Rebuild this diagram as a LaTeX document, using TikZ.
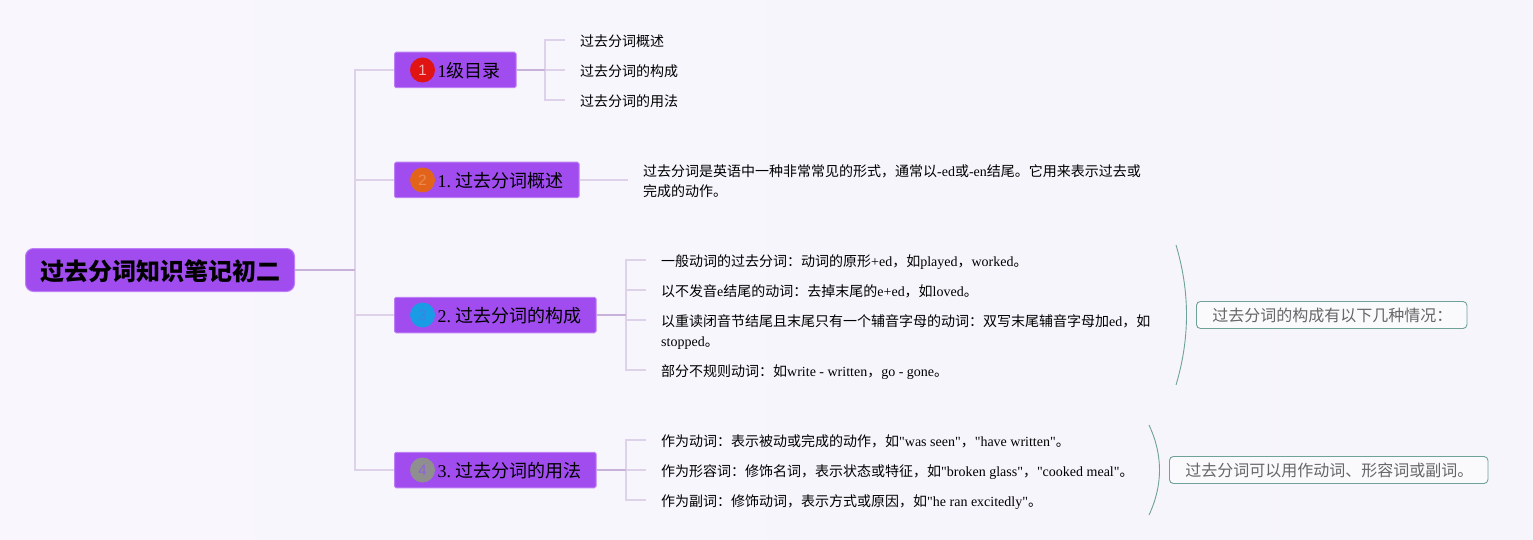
\documentclass[tikz,border=0pt]{standalone}
\usepackage{fontspec}
\setmainfont{Liberation Serif}
\newfontfamily\cjk{Noto Sans CJK SC}
\newfontfamily\plainserif{Liberation Serif}
\newfontfamily\badgefont{Liberation Sans}
\newcommand{\zh}[1]{{\cjk #1}}
\newcommand{\qm}{{\plainserif"}}
\definecolor{bgL}{HTML}{F9F6FE}
\definecolor{bgR}{HTML}{F6F5FB}
\definecolor{nodeFill}{HTML}{A14CEF}
\definecolor{nodeEdge}{HTML}{BC7FF5}
\definecolor{dark}{HTML}{C9B2D9}
\definecolor{soft}{HTML}{DDD2EA}
\definecolor{teal}{HTML}{6FA298}
\definecolor{calloutFill}{HTML}{FAFAFD}
\definecolor{badgeA}{HTML}{E11414}
\definecolor{badgeAt}{HTML}{F8B0B0}
\definecolor{badgeB}{HTML}{E2641A}
\definecolor{badgeBt}{HTML}{EC8A50}
\definecolor{badgeC}{HTML}{1A9BE5}
\definecolor{badgeCt}{HTML}{3C84E2}
\definecolor{badgeD}{HTML}{8F8F8F}
\definecolor{badgeDt}{HTML}{9060E0}
\tikzset{
  x=1pt,y=-1pt,
  rootbox/.style={draw=nodeEdge,line width=1pt,fill=nodeFill,rounded corners=8pt,minimum width=269pt,minimum height=43pt,inner sep=0pt,text height=21.2pt,text depth=0pt,font=\fontsize{24}{28}\selectfont\bfseries,text=black},
  branchbox/.style={draw=nodeEdge,line width=1pt,fill=nodeFill,rounded corners=1.5pt,minimum height=35.5pt,inner xsep=0pt,inner ysep=0pt,align=left,anchor=west,text height=15.6pt,text depth=0pt,font=\fontsize{18}{22}\selectfont,text=black},
  badge/.style={circle,minimum size=25pt,inner sep=0pt,font=\fontsize{15}{15}\selectfont\badgefont},
  leaf/.style={anchor=west,inner sep=0pt,inner xsep=15pt,align=left,text height=10.6pt,text depth=0pt,font=\fontsize{14}{20}\selectfont,text=black},
  trunkline/.style={draw=soft,line width=1.6pt},
  stemline/.style={draw=dark,line width=1.6pt},
  bracket/.style={draw=teal,line width=.9pt},
  callout/.style={draw=teal,line width=.9pt,fill=calloutFill,rounded corners=4pt,minimum height=27pt,inner sep=0pt,anchor=west,align=left,text=black!60,font=\fontsize{16}{20}\selectfont},
}
\begin{document}
\begin{tikzpicture}
\useasboundingbox (0,0) rectangle (1533,540);
\shade[left color=bgL,right color=bgR] (0,0) rectangle (1533,540);

\coordinate (trunk) at (355,270);
\node[rootbox] (root) at (160,270) {\zh{过去分词知识笔记初二}};

\node[branchbox,text width=121.5pt] (b1) at (394,70) {\hspace*{43pt}1\zh{级目录}};
\node[branchbox,text width=184.5pt] (b2) at (394,180) {\hspace*{43pt}1.\kern4.5pt\zh{过去分词概述}};
\node[branchbox,text width=201.5pt] (b3) at (394,315) {\hspace*{43pt}2.\kern4.5pt\zh{过去分词的构成}};
\node[branchbox,text width=201.5pt] (b4) at (394,470) {\hspace*{43pt}3.\kern4.5pt\zh{过去分词的用法}};

\node[badge,fill=badgeA,text=badgeAt] (i1) at (422.5,70) {1};
\node[badge,fill=badgeB,text=badgeBt] (i2) at (422.5,180) {2};
\node[badge,fill=badgeC,text=badgeCt] (i3) at (422.5,315) {3};
\node[badge,fill=badgeD,text=badgeDt] (i4) at (422.5,470) {4};

\node[leaf] (c11) at (565,41) {\zh{过去分词概述}};
\node[leaf] (c12) at (565,71) {\zh{过去分词的构成}};
\node[leaf] (c13) at (565,101) {\zh{过去分词的用法}};

\node[leaf] (c21) at (628,191) {\zh{过去分词是英语中一种非常常见的形式，通常以}-ed\zh{或}-en\zh{结尾。它用来表示过去或}\\\zh{完成的动作。}};

\node[leaf] (c31) at (646,261) {\zh{一般动词的过去分词：动词的原形}+ed\zh{，如}played\zh{，}worked\zh{。}};
\node[leaf] (c32) at (646,291) {\zh{以不发音}e\zh{结尾的动词：去掉末尾的}e+ed\zh{，如}loved\zh{。}};
\node[leaf] (c33) at (646,341) {\zh{以重读闭音节结尾且末尾只有一个辅音字母的动词：双写末尾辅音字母加}ed\zh{，如}\\stopped\zh{。}};
\node[leaf] (c34) at (646,371) {\zh{部分不规则动词：如}write - written\zh{，}go - gone\zh{。}};

\node[leaf] (c41) at (646,441) {\zh{作为动词：表示被动或完成的动作，如}\qm was seen\qm\zh{，}\qm have written\qm\zh{。}};
\node[leaf] (c42) at (646,471) {\zh{作为形容词：修饰名词，表示状态或特征，如}\qm broken glass\qm\zh{，}\qm cooked meal\qm\zh{。}};
\node[leaf] (c43) at (646,501) {\zh{作为副词：修饰动词，表示方式或原因，如}\qm he ran excitedly\qm\zh{。}};

\node[callout,minimum width=270.5pt,text width=270.5pt] (n1) at (1196,315) {\hspace*{16pt}\zh{过去分词的构成有以下几种情况：}};
\node[callout,minimum width=318.5pt,text width=318.5pt] (n2) at (1169,470) {\hspace*{16pt}\zh{过去分词可以用作动词、形容词或副词。}};

\draw[trunkline] (trunk) |- (b1.west);
\draw[trunkline] (trunk) |- (b2.west);
\draw[trunkline] (trunk) |- (b3.west);
\draw[trunkline] (trunk) |- (b4.west);
\draw[stemline] (root.east) -- (trunk);

\coordinate (j1) at (545,70);
\coordinate (j3) at (626,315);
\coordinate (j4) at (626,470);
\draw[trunkline] (j1) |- ([yshift=1pt]c11.west);
\draw[trunkline] (j1) -- ([yshift=1pt]c12.west);
\draw[trunkline] (j1) |- ([yshift=1pt]c13.west);
\draw[stemline] (b1.east) -- (j1);

\draw[trunkline] (b2.east) -- (b2.east -| c21.west);

\draw[trunkline] (j3) |- ([yshift=1pt]c31.west);
\draw[trunkline] (j3) |- ([yshift=1pt]c32.west);
\draw[trunkline] (j3) |- ([yshift=21pt]c33.west);
\draw[trunkline] (j3) |- ([yshift=1pt]c34.west);
\draw[stemline] (b3.east) -- (j3);

\draw[trunkline] (j4) |- ([yshift=1pt]c41.west);
\draw[trunkline] (j4) |- ([yshift=1pt]c42.west);
\draw[trunkline] (j4) |- ([yshift=1pt]c43.west);
\draw[stemline] (b4.east) -- (j4);

\draw[bracket] (1176,245) .. controls (1190,292) and (1190,338) .. (1176,385);
\draw[bracket] (1149,425) .. controls (1163,455) and (1163,485) .. (1149,515);
\end{tikzpicture}
\end{document}
